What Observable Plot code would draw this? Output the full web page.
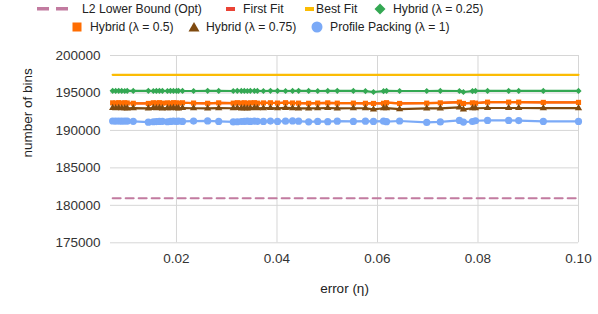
<!DOCTYPE html>
<html><head><meta charset="utf-8">
<script src="https://cdn.jsdelivr.net/npm/d3@7"></script>
<script src="https://cdn.jsdelivr.net/npm/@observablehq/plot@0.6"></script>
<style>
body{margin:0;background:#fff;font-family:"Liberation Sans",Arial,sans-serif;}
#legend{position:relative;width:598px;height:45px;font-size:12.2px;color:#222;}
#legend .t{position:absolute;white-space:nowrap;line-height:14px;}
#legend svg{position:absolute;overflow:visible;}
#chart svg{display:block;}
</style></head><body>
<div id="legend"></div><div id="chart"></div>
<script>
// ---- data ----
const seriesNames = ["L2 Lower Bound (Opt)", "First Fit", "Best Fit", "Hybrid (λ = 0.25)", "Hybrid (λ = 0.5)", "Hybrid (λ = 0.75)", "Profile Packing (λ = 1)"];
const seriesColors = ["#c27ba0", "#ea4335", "#fbbc04", "#34a853", "#ff6d01", "#7f4a0f", "#7baaf7"];
const xTicks = [0.02, 0.04, 0.06, 0.08, 0.10];
const yTicks = [175000, 180000, 185000, 190000, 195000, 200000];

const errors = [0.0073,0.0079,0.0085,0.0091,0.0097,0.0102,0.0114,0.0144,0.0154,0.0160,
  0.0166,0.0172,0.0182,0.0188,0.0194,0.0200,0.0204,0.0212,0.0234,0.0262,
  0.0284,0.0313,0.0321,0.0329,0.0335,0.0341,0.0347,0.0355,0.0361,0.0373,
  0.0387,0.0401,0.0417,0.0431,0.0443,0.0463,0.0481,0.0501,0.0520,0.0552,
  0.0576,0.0592,0.0612,0.0618,0.0644,0.0698,0.0725,0.0763,0.0771,0.0789,
  0.0795,0.0819,0.0861,0.0881,0.0930,0.1000];

const flatErrors = [0.0073, 0.1000];
const lowerBound = [180930, 180930];
const bestFit = [197420, 197420];

const hybrid025 = [195280,195270,195290,195270,195260,195280,195270,195280,195260,195270,
  195280,195270,195260,195280,195270,195270,195290,195270,195260,195280,
  195270,195260,195280,195270,195270,195260,195280,195270,195270,195260,
  195280,195270,195260,195270,195280,195270,195260,195270,195280,195270,
  195250,195130,195240,195270,195260,195260,195270,195260,195130,195250,
  195270,195270,195270,195270,195270,195270];

const hybrid05 = [193680,193650,193700,193640,193690,193660,193620,193600,193690,193650,
  193700,193640,193680,193620,193700,193660,193640,193690,193650,193620,
  193680,193640,193700,193650,193690,193620,193680,193700,193640,193670,
  193690,193650,193700,193660,193640,193620,193650,193680,193640,193640,
  193620,193600,193620,193700,193600,193640,193680,193770,193600,193680,
  193640,193770,193770,193770,193740,193740];

const firstFit = [193680,193650,193700,193640,193690,193660,193620,193600,193690,193650,
  193700,193640,193680,193620,193700,193660,193640,193690,193650,193620,
  193680,193640,193700,193650,193690,193620,193680,193700,193640,193670,
  193690,193650,193700,193660,193640,193620,193650,193680,193640,193640,
  193620,193600,193620,193700,193600,193640,193680,193770,193600,193680,
  193640,193770,193770,193770,193740,193740];

const hybrid075 = [192990,192970,193000,192960,192980,192950,192970,192930,192990,192960,
  192990,192950,192980,192960,193000,192970,192950,192990,192960,192940,
  192980,192960,192990,192950,192980,192940,192970,193000,192960,192980,
  192990,192960,193000,192970,192950,192930,192960,192990,192950,192960,
  192960,192800,192960,192980,192830,192940,192950,193080,192800,192960,
  192960,192990,192990,192990,192980,192980];

const profilePacking = [191260,191240,191250,191230,191250,191240,191220,191100,191160,191180,
  191200,191220,191160,191200,191230,191210,191240,191200,191250,191270,
  191200,191140,191160,191190,191210,191230,191200,191240,191220,191200,
  191250,191200,191240,191270,191230,191150,191200,191170,191230,191200,
  191230,191200,191240,191170,191260,191070,191130,191340,191110,191190,
  191290,191330,191330,191310,191200,191200];

// ---- legend ----
const legendLayout = [
  {i:0, kind:"dash",     sx:37,  sy:9,  tx:82,  ty:2},
  {i:1, kind:"bar",      sx:226, sy:9,  tx:243, ty:2},
  {i:2, kind:"bar",      sx:305, sy:9,  tx:316, ty:2},
  {i:3, kind:"diamond",  sx:380, sy:9,  tx:393, ty:2},
  {i:4, kind:"square",   sx:77,  sy:27, tx:90,  ty:20},
  {i:5, kind:"triangle", sx:194, sy:27, tx:206, ty:20},
  {i:6, kind:"circle",   sx:317, sy:27, tx:330, ty:20}
];
const legend = document.getElementById("legend");
for (const L of legendLayout) {
  const c = seriesColors[L.i];
  let svg;
  if (L.kind === "dash") {
    svg = `<svg style="left:${L.sx}px;top:${L.sy-2}px" width="32" height="4"><rect x="0" y="0" width="12" height="3.5" fill="${c}"/><rect x="19" y="0" width="12" height="3.5" fill="${c}"/></svg>`;
  } else if (L.kind === "bar") {
    svg = `<svg style="left:${L.sx}px;top:${L.sy-2}px" width="10" height="4"><rect x="0" y="0" width="9" height="4" fill="${c}"/></svg>`;
  } else if (L.kind === "diamond") {
    svg = `<svg style="left:${L.sx-6}px;top:${L.sy-6}px" width="12" height="12"><path d="M6,0.5L11.5,6L6,11.5L0.5,6Z" fill="${c}"/></svg>`;
  } else if (L.kind === "square") {
    svg = `<svg style="left:${L.sx-5}px;top:${L.sy-5}px" width="10" height="10"><rect x="0.5" y="0.5" width="9" height="9" fill="${c}"/></svg>`;
  } else if (L.kind === "triangle") {
    svg = `<svg style="left:${L.sx-6}px;top:${L.sy-6}px" width="12" height="12"><path d="M6,1L11.5,10.5L0.5,10.5Z" fill="${c}"/></svg>`;
  } else {
    svg = `<svg style="left:${L.sx-6}px;top:${L.sy-6}px" width="12" height="12"><circle cx="6" cy="6" r="5.5" fill="${c}"/></svg>`;
  }
  legend.insertAdjacentHTML("beforeend", svg + `<span class="t" style="left:${L.tx}px;top:${L.ty}px">${seriesNames[L.i]}</span>`);
}

// ---- chart ----
const lineW = 2.2;
const plot = Plot.plot({
  width: 598,
  height: 269,
  marginLeft: 110,
  marginRight: 20,
  marginTop: 10,
  marginBottom: 71.7,
  x: {domain: [0.00687, 0.1], label: null},
  y: {domain: [175000, 200000], label: null},
  style: {fontFamily: '"Liberation Sans", Arial, sans-serif', fontSize: "13.5px", color: "#333", background: "#fff"},
  marks: [
    Plot.gridY(yTicks, {stroke: "#d6d6d6", strokeOpacity: 1}),
    Plot.gridX(xTicks, {stroke: "#d6d6d6", strokeOpacity: 1}),
    Plot.axisY(yTicks, {tickSize: 0, tickPadding: 10, tickFormat: d => String(d), label: null, fill: "#333"}),
    Plot.axisX(xTicks, {tickSize: 0, tickPadding: 11, tickFormat: d3.format(".2f"), label: null, fill: "#333"}),
    Plot.line(lowerBound, {x: flatErrors, y: lowerBound, stroke: seriesColors[0], strokeWidth: 2, strokeDasharray: "8,5"}),
    Plot.line(firstFit, {x: errors, y: firstFit, stroke: seriesColors[1], strokeWidth: lineW}),
    Plot.line(bestFit, {x: flatErrors, y: bestFit, stroke: seriesColors[2], strokeWidth: lineW}),
    Plot.line(hybrid025, {x: errors, y: hybrid025, stroke: seriesColors[3], strokeWidth: lineW}),
    Plot.dot(hybrid025, {x: errors, y: hybrid025, fill: seriesColors[3], symbol: d3.symbolDiamond2, r: 2.8}),
    Plot.line(hybrid05, {x: errors, y: hybrid05, stroke: seriesColors[4], strokeWidth: lineW}),
    Plot.dot(hybrid05, {x: errors, y: hybrid05, fill: seriesColors[4], symbol: "square", r: 2.9}),
    Plot.line(hybrid075, {x: errors, y: hybrid075, stroke: seriesColors[5], strokeWidth: lineW}),
    Plot.dot(hybrid075, {x: errors, y: hybrid075, fill: seriesColors[5], symbol: "triangle", r: 2.7}),
    Plot.line(profilePacking, {x: errors, y: profilePacking, stroke: seriesColors[6], strokeWidth: lineW}),
    Plot.dot(profilePacking, {x: errors, y: profilePacking, fill: seriesColors[6], symbol: "circle", r: 3.6}),
    Plot.text(["number of bins"], {text: d => d, frameAnchor: "left", dx: -83, dy: 8.4, rotate: -90, fontSize: 13.5, fill: "#222"}),
    Plot.text(["error (η)"], {text: d => d, frameAnchor: "bottom", dy: 49.7, fontSize: 13.5, fill: "#222"})
  ]
});
document.getElementById("chart").appendChild(plot);
</script>
</body></html>
